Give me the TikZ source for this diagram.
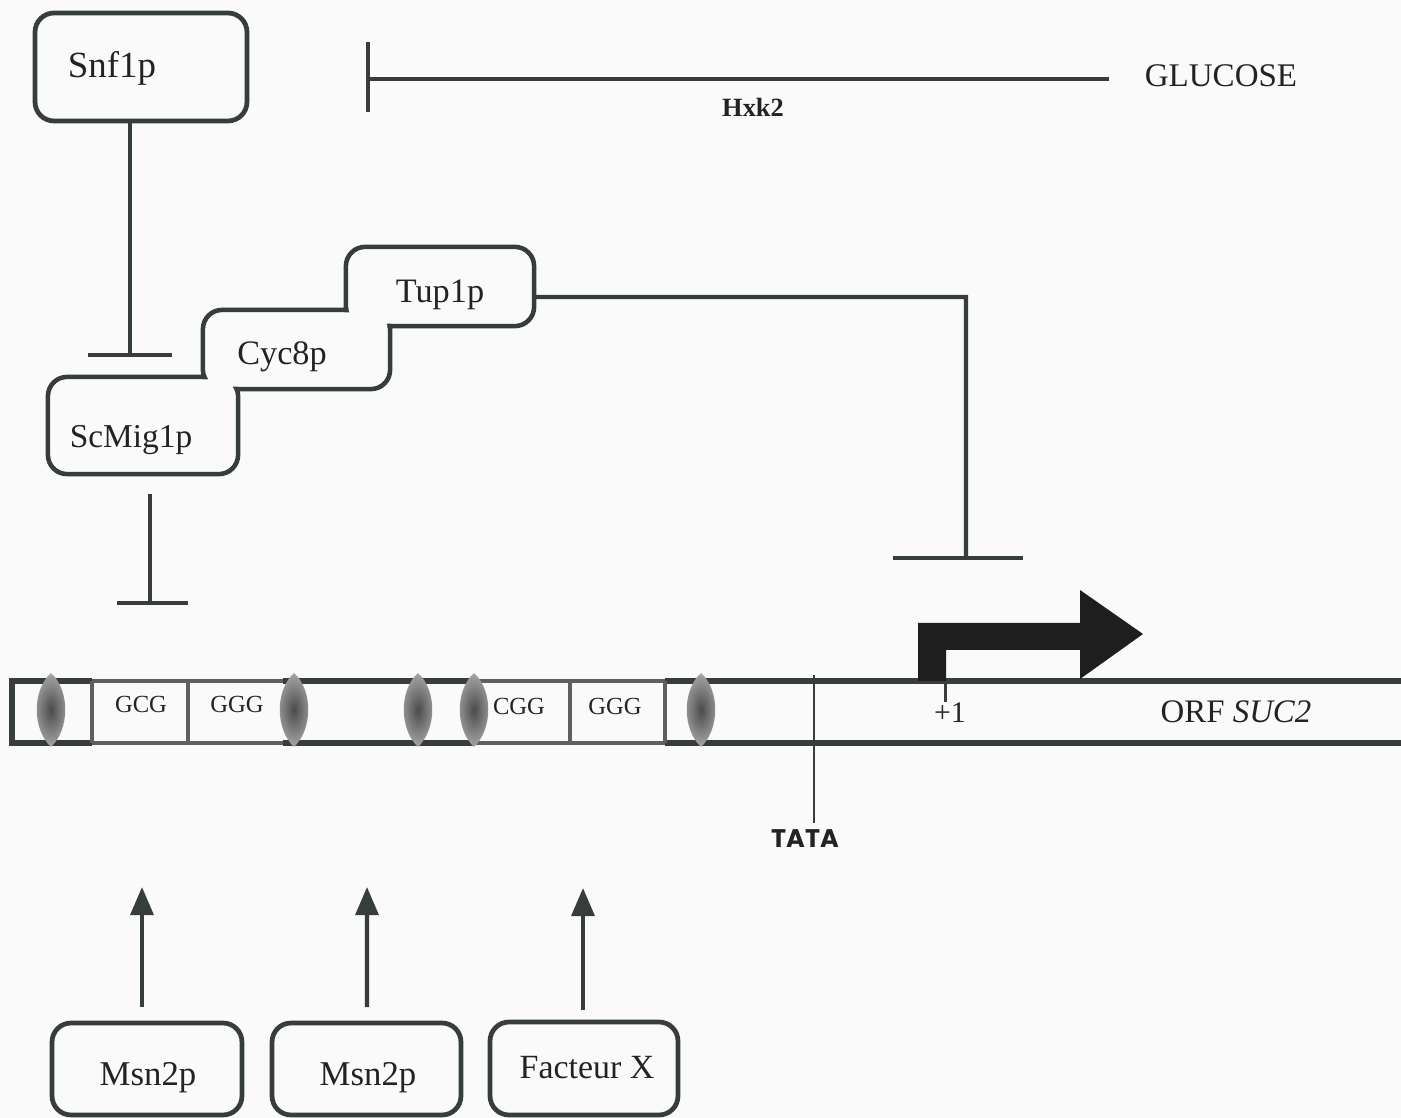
\documentclass[tikz,border=0pt]{standalone}
\usepackage{fontspec}
\setmainfont{Liberation Serif}
\newfontfamily\tatafont{Poppins}
\usetikzlibrary{arrows.meta,calc}
\definecolor{ink}{RGB}{55,60,60}
\definecolor{txt}{RGB}{35,35,35}
\definecolor{paper}{RGB}{250,250,250}
\definecolor{boxline}{RGB}{95,95,95}
\definecolor{ovdark}{RGB}{75,75,75}
\definecolor{ovlight}{RGB}{165,165,165}
\definecolor{arrowfill}{RGB}{30,30,30}
\newcommand\lensat[1]{\shade[inner color=ovdark, outer color=ovlight] (#1,673) .. controls (#1+19,690) and (#1+19,729) .. (#1,747) .. controls (#1-19,729) and (#1-19,690) .. (#1,673) -- cycle;}
\newcommand\insetfill[1]{\fill[paper, rounded corners=0.34cm] ([shift={(1.35pt,-1.35pt)}]#1.north west) rectangle ([shift={(-1.35pt,1.35pt)}]#1.south east);}
\begin{document}
\begin{tikzpicture}[x=0.02cm,y=-0.02cm,
  protbox/.style={draw=ink, line width=2.7pt, rounded corners=0.38cm, inner sep=0pt, outer sep=0pt},
  lbl/.style={anchor=base, inner sep=0pt, text=txt},
  conn/.style={draw=ink, line width=2.3pt, line join=miter},
  act/.style={conn, -{Triangle[width=13pt,length=16pt]}},
]
\fill[paper] (0,0) rectangle (1401,1118);
\useasboundingbox (0,0) rectangle (1401,1118);

% ---------- protein boxes ----------
\node[protbox, fill=paper, minimum width=4.24cm, minimum height=2.16cm] (snf) at (141,67) {};
\node[protbox, minimum width=3.76cm, minimum height=1.58cm] (tup) at (440,286.5) {};
\node[protbox, minimum width=3.74cm, minimum height=1.58cm] (cyc) at (296.5,349.5) {};
\node[protbox, minimum width=3.80cm, minimum height=1.94cm] (mig) at (143,425.5) {};
\insetfill{tup}
\insetfill{cyc}
\insetfill{mig}
\node[protbox, fill=paper, minimum width=3.80cm, minimum height=1.84cm] (msna) at (147,1069) {};
\node[protbox, fill=paper, minimum width=3.78cm, minimum height=1.84cm] (msnb) at (366.5,1069) {};
\node[protbox, fill=paper, minimum width=3.76cm, minimum height=1.86cm] (facx) at (584,1068.5) {};

% ---------- labels ----------
\node[lbl, font=\fontsize{21}{24}\selectfont] (snfl) at (112,78) {Snf1p};
\node[lbl, font=\fontsize{19.5}{22}\selectfont] (tupl) at (440,303) {Tup1p};
\node[lbl, font=\fontsize{19.5}{22}\selectfont] (cycl) at (282,365) {Cyc8p};
\node[lbl, font=\fontsize{19}{22}\selectfont] (migl) at (131,448) {ScMig1p};
\node[lbl, font=\fontsize{19.8}{22}\selectfont] (msnal) at (148,1085) {Msn2p};
\node[lbl, font=\fontsize{19.8}{22}\selectfont] (msnbl) at (368,1085) {Msn2p};
\node[lbl, font=\fontsize{19.3}{22}\selectfont] (facxl) at (587,1078) {Facteur X};
\node[lbl, font=\fontsize{18.8}{22}\selectfont] (glc) at (1221,87) {GLUCOSE};
\node[lbl, font=\bfseries\fontsize{15}{18}\selectfont] (hxk) at (753,117) {Hxk2};

% ---------- glucose inhibition ----------
\coordinate (glcbar) at (368,79);
\draw[conn] ($(glc.base west)+(-35,-8)$) -- (glcbar);
\draw[conn] (368,42) -- (368,112);

% ---------- Snf1p -| ScMig1p ----------
\coordinate (inh1) at (130,355);
\draw[conn] ($(snf.south)+(-11,0)$) -- (inh1);
\draw[conn] (88,355) -- (172,355);

% ---------- Tup1p -| promoter ----------
\coordinate (inh2) at (966,558);
\draw[conn] ($(tup.east)+(0,10.5)$) -- (966,297) -- (inh2);
\draw[conn] (893,558) -- (1023,558);

% ---------- ScMig1p -| DNA ----------
\coordinate (inh3) at (150,603);
\draw[conn] ($(mig.south)+(7,20)$) -- (inh3);
\draw[conn] (117,603) -- (188,603);

% ---------- activators ----------
\coordinate (acta) at (142,887);
\coordinate (actb) at (367,887);
\coordinate (actc) at (583,888);
\draw[act] ($(msna.north)+(-5,-16)$) -- (acta);
\draw[act] ($(msnb.north)+(0.5,-16)$) -- (actb);
\draw[act] ($(facx.north)+(-1,-12)$) -- (actc);

% ---------- DNA strand ----------
\draw[ink, line width=2.9pt, line join=miter] (1401,681) -- (12,681) -- (12,743) -- (1401,743);
% boxed elements
\draw[paper, line width=3.2pt] (92,681) -- (283,681) (92,743) -- (283,743) (474,681) -- (665,681) (474,743) -- (665,743);
\draw[boxline, line width=2.5pt] (92,681) -- (283,681) (92,743) -- (283,743) (474,681) -- (665,681) (474,743) -- (665,743);
\draw[boxline, line width=2.3pt] (92,681) -- (92,743) (188,681) -- (188,743) (570,681) -- (570,743) (665,681) -- (665,743);
\lensat{51}
\lensat{294}
\lensat{418}
\lensat{474}
\lensat{701}
\node[lbl, font=\fontsize{14}{16}\selectfont] (gcg) at (141,713) {GCG};
\node[lbl, font=\fontsize{14}{16}\selectfont] (ggg1) at (237,713) {GGG};
\node[lbl, font=\fontsize{14}{16}\selectfont] (cgg) at (519,715) {CGG};
\node[lbl, font=\fontsize{14}{16}\selectfont] (ggg2) at (615,715) {GGG};

% TATA
\coordinate (tatatop) at (814,675);
\node[lbl, font=\tatafont\bfseries\fontsize{14.5}{16}\selectfont] (tata) at (805,847) {TATA};
\draw[ink, line width=1.7pt] (tatatop) -- ($(tata.north)+(9,-6)$);

% transcription start
\fill[arrowfill] (918,681) -- (918,623) -- (1080,623) -- (1080,590) -- (1143,634) -- (1080,679) -- (1080,650) -- (946,650) -- (946,681) -- cycle;
\coordinate (tss) at (945,702);
\draw[ink, line width=1.7pt] (945,681) -- (tss);
\node[lbl, font=\fontsize{17}{20}\selectfont] (plus1) at (950,723) {+1};
\node[lbl, font=\fontsize{18.7}{22}\selectfont] (orf) at (1236,723) {ORF \textit{SUC2}};
\end{tikzpicture}
\end{document}
